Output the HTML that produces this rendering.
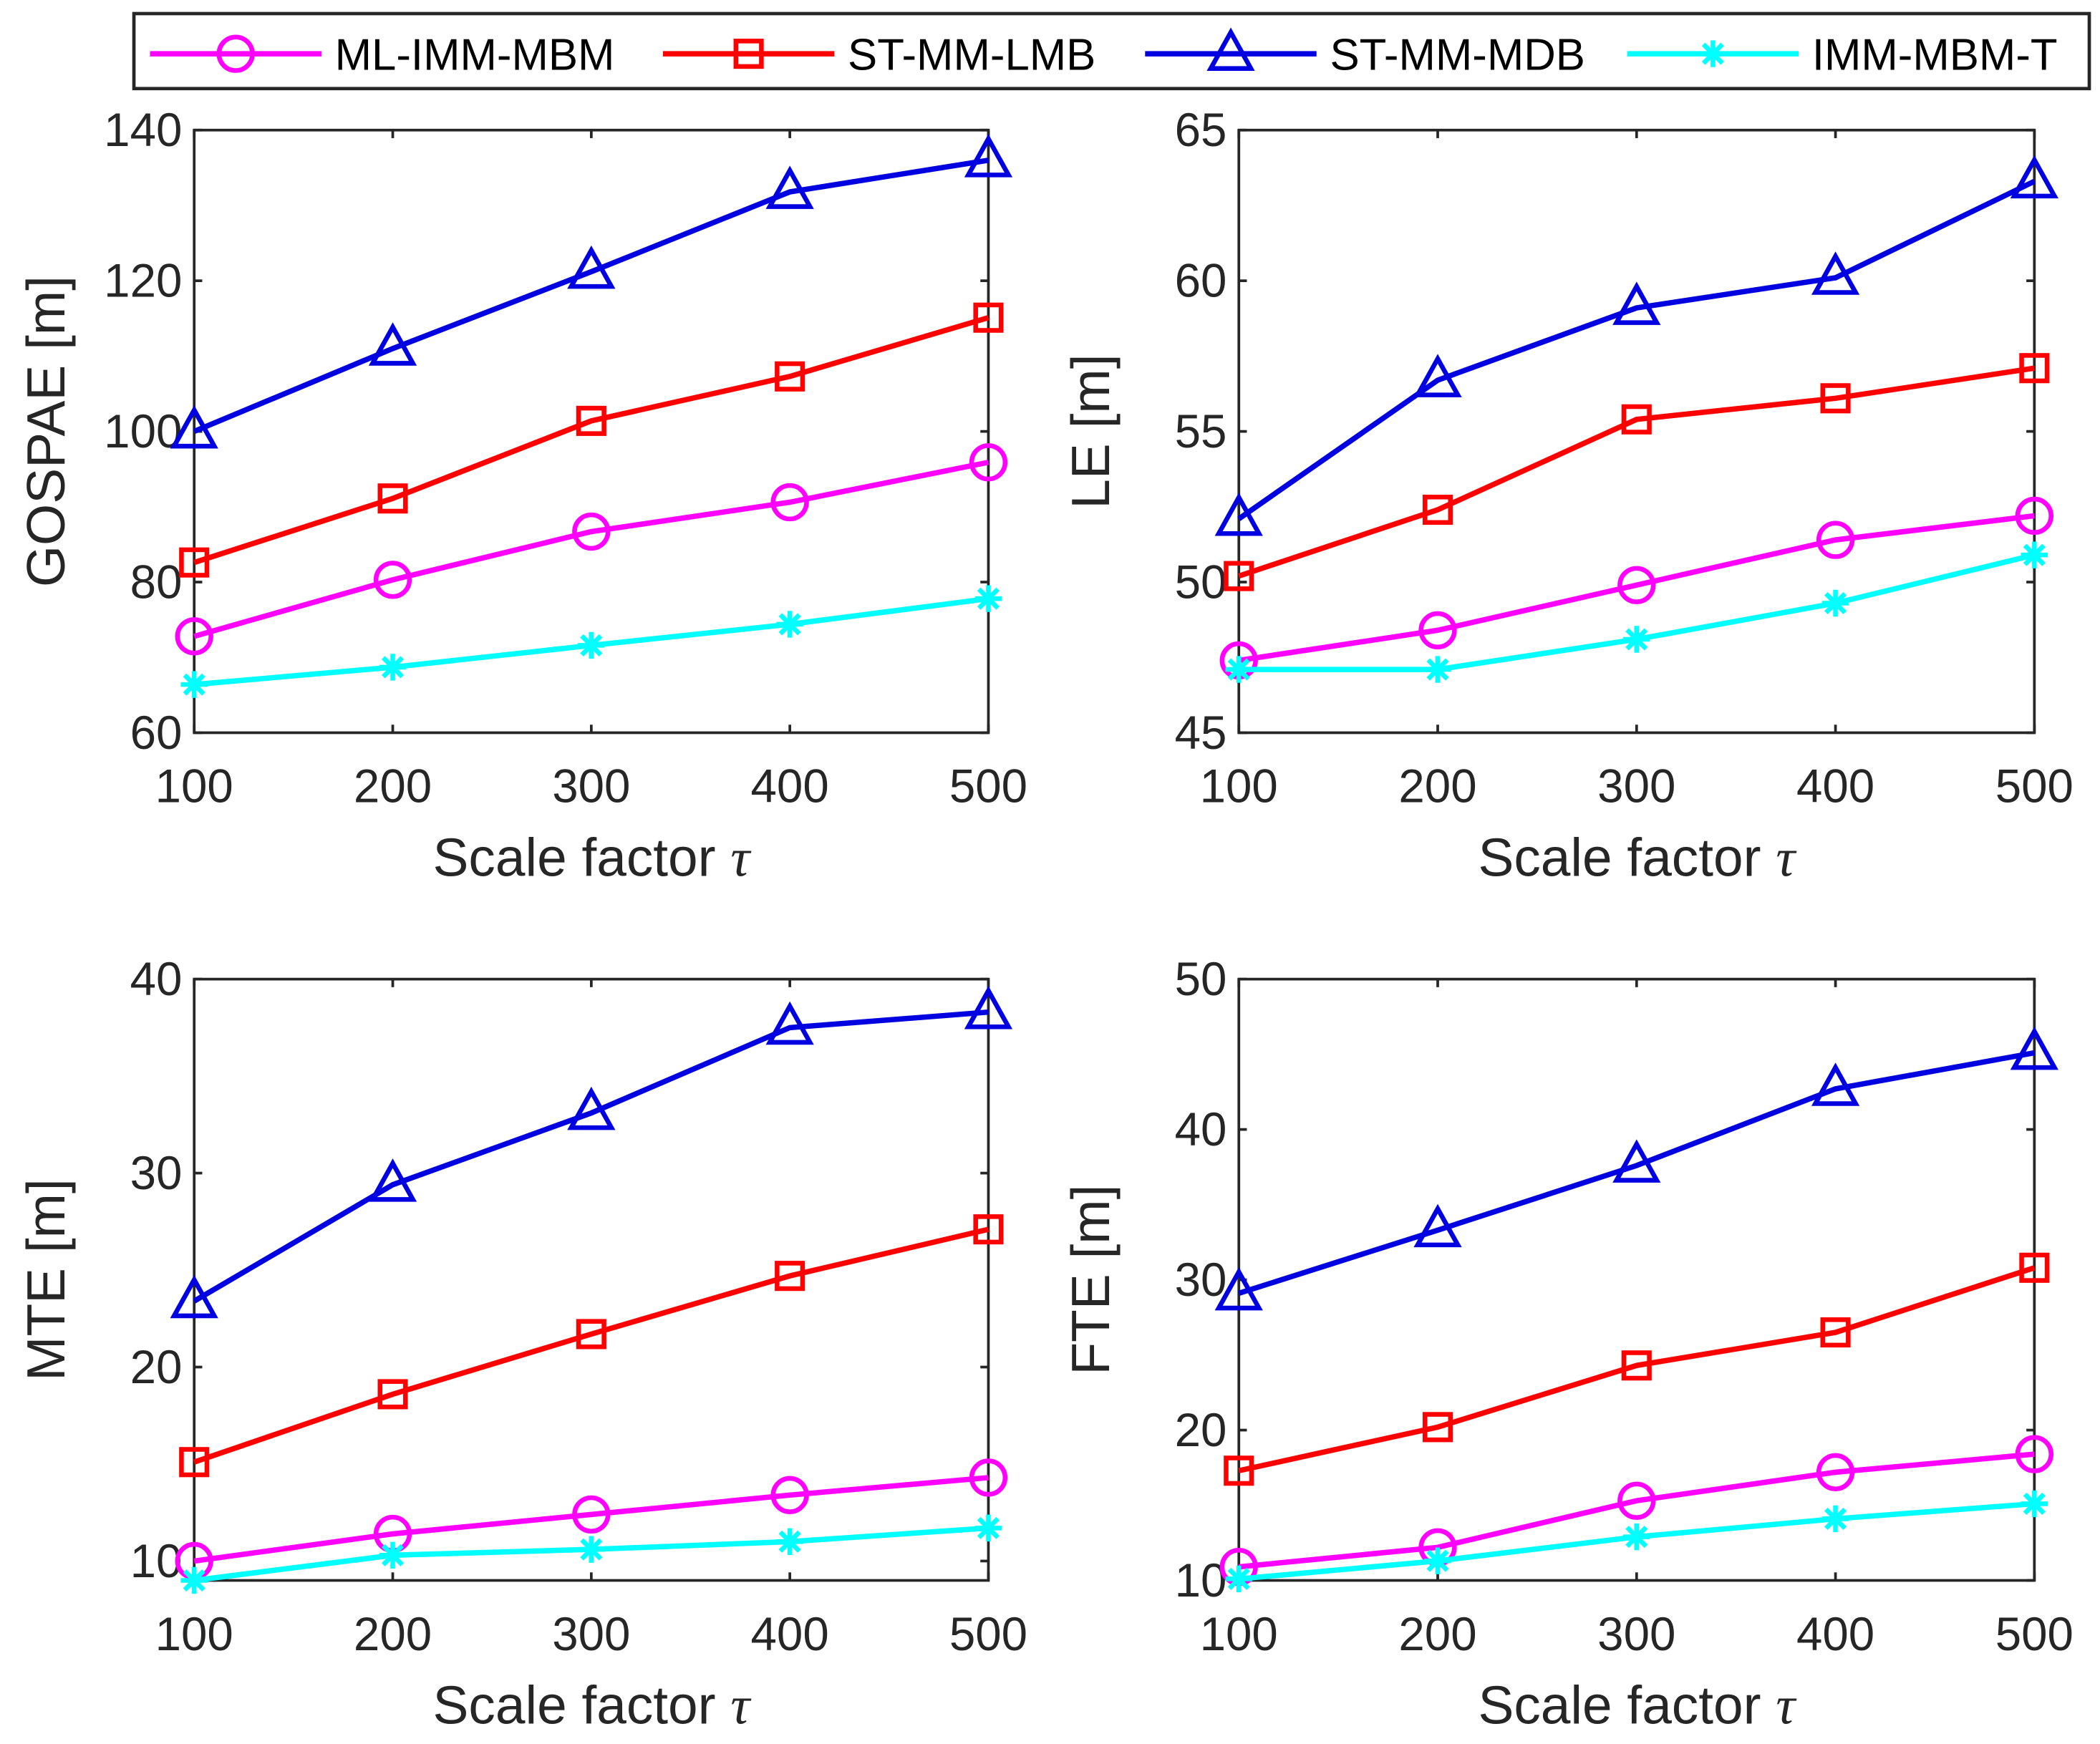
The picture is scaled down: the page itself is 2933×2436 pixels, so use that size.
<!DOCTYPE html>
<html><head><meta charset="utf-8"><style>html,body{margin:0;padding:0;background:#fff}svg{display:block}text{font-family:"Liberation Sans",sans-serif;fill:#262626}</style></head>
<body>
<svg id="fig" width="2933" height="2436" viewBox="0 0 1568 1302" xmlns="http://www.w3.org/2000/svg">
<g id="legend"></g>
</svg>
<script>
const xCats=[100,200,300,400,500];
const names=["ML-IMM-MBM","ST-MM-LMB","ST-MM-MDB","IMM-MBM-T"];
const colors=["#ff00ff","#ff0000","#0000e0","#00ffff"];
const markers=["circle","square","triangle","star"];
const gospaeML=[72.8,80.3,86.7,90.6,95.9];
const gospaeLMB=[82.6,91.1,101.4,107.3,115.1];
const gospaeMDB=[100,111,121.2,131.8,136];
const gospaeT=[66.4,68.7,71.6,74.4,77.8];
const leML=[47.4,48.4,49.9,51.4,52.2];
const leLMB=[50.2,52.4,55.4,56.1,57.1];
const leMDB=[52.1,56.7,59.1,60.1,63.3];
const leT=[47.1,47.1,48.1,49.3,50.9];
const mteML=[10,11.4,12.4,13.4,14.3];
const mteLMB=[15.1,18.6,21.7,24.7,27.1];
const mteMDB=[23.4,29.4,33.1,37.5,38.3];
const mteT=[9,10.3,10.6,11,11.7];
const fteML=[10.9,12.2,15.3,17.2,18.4];
const fteLMB=[17.3,20.2,24.3,26.5,30.8];
const fteMDB=[29.1,33.3,37.6,42.7,45.1];
const fteT=[10.1,11.3,12.9,14.1,15.1];
const gospaeTicks=[60,80,100,120,140];
const leTicks=[45,50,55,60,65];
const mteTicks=[10,20,30,40];
const fteTicks=[10,20,30,40,50];

const NS="http://www.w3.org/2000/svg";
const svg=document.getElementById('fig');
function el(tag,attrs,parent){const e=document.createElementNS(NS,tag);for(const k in attrs)e.setAttribute(k,attrs[k]);(parent||svg).appendChild(e);return e;}
function marker(g,type,x,y,c){
  let m;
  if(type==="circle")m=el('circle',{cx:x,cy:y,r:12.5,fill:'none',stroke:c,'stroke-width':3.5},g);
  else if(type==="square")m=el('rect',{x:x-9.5,y:y-9.5,width:19,height:19,fill:'none',stroke:c,'stroke-width':3.5},g);
  else if(type==="triangle")m=el('polygon',{points:`${x},${y-16} ${x-15},${y+11} ${x+15},${y+11}`,fill:'none',stroke:c,'stroke-width':3.5},g);
  else{m=el('g',{},g);for(const a of [0,45,90,135]){const r=a*Math.PI/180;el('line',{x1:x-10*Math.cos(r),y1:y-10*Math.sin(r),x2:x+10*Math.cos(r),y2:y+10*Math.sin(r),stroke:c,'stroke-width':3.5},m);}}
  return m;
}
function panel(id,x0,x1,y0,y1,ymin,ymax,ticks,ylabel,series){
  const g=el('g',{});
  
  
  const sx=v=>x0+(v-100)/400*(x1-x0);
  const sy=v=>y1-(v-ymin)/(ymax-ymin)*(y1-y0);
  el('rect',{x:x0,y:y0,width:x1-x0,height:y1-y0,fill:'#fff',stroke:'#262626','stroke-width':2},g);
  xCats.forEach(v=>{const x=sx(v);
    el('line',{x1:x,y1:y1,x2:x,y2:y1-6,stroke:'#262626','stroke-width':2},g);
    el('line',{x1:x,y1:y0,x2:x,y2:y0+6,stroke:'#262626','stroke-width':2},g);
    const t=el('text',{x:x,y:y1+52,'font-size':35,'text-anchor':'middle'},g);t.textContent=v;
    
    
  });
  ticks.forEach(v=>{const y=sy(v);
    el('line',{x1:x0,y1:y,x2:x0+6,y2:y,stroke:'#262626','stroke-width':2},g);
    el('line',{x1:x1,y1:y,x2:x1-6,y2:y,stroke:'#262626','stroke-width':2},g);
    const t=el('text',{x:x0-9,y:y+12,'font-size':35,'text-anchor':'end'},g);t.textContent=v;
    
    
  });
  const xl=el('text',{x:(x0+x1)/2,y:y1+107,'font-size':40,'text-anchor':'middle'},g);
  xl.innerHTML='Scale factor <tspan font-family="Liberation Serif" font-style="italic">τ</tspan>';
  
  
  const yl=el('text',{x:0,y:0,'font-size':40,'text-anchor':'middle',transform:`translate(${x0-97},${(y0+y1)/2}) rotate(-90)`},g);
  yl.textContent=ylabel;
  
  
  series.forEach((s,i)=>{
    const sg=el('g',{},g);
    
    
    el('polyline',{points:s.map((v,j)=>sx(xCats[j])+','+sy(v)).join(' '),fill:'none',stroke:colors[i],'stroke-width':4},sg);
    s.forEach((v,j)=>{const m=marker(sg,markers[i],sx(xCats[j]),sy(v),colors[i]);
      
      });
  });
}
panel('gospae',145,738,97,547,60,140,gospaeTicks,'GOSPAE [m]',[gospaeML,gospaeLMB,gospaeMDB,gospaeT]);
panel('le',925,1519,97,547,45,65,leTicks,'LE [m]',[leML,leLMB,leMDB,leT]);
panel('mte',145,738,731,1180,9,40,mteTicks,'MTE [m]',[mteML,mteLMB,mteMDB,mteT]);
panel('fte',925,1519,731,1180,10,50,fteTicks,'FTE [m]',[fteML,fteLMB,fteMDB,fteT]);
const lg=document.getElementById('legend');
svg.appendChild(lg);
el('rect',{x:100,y:10,width:1460,height:56,fill:'#fff',stroke:'#262626','stroke-width':2.5},lg);
const lx=[112,495,855,1215];
names.forEach((n,i)=>{
  const eg=el('g',{},lg);
  
  
  el('line',{x1:lx[i],y1:40,x2:lx[i]+128,y2:40,stroke:colors[i],'stroke-width':4},eg);
  marker(eg,markers[i],lx[i]+64,40,colors[i]);
  const t=el('text',{x:lx[i]+138,y:52,'font-size':33,fill:'#000'},eg);t.textContent=n;t.style.fill='#000';
});
</script>
</body></html>
